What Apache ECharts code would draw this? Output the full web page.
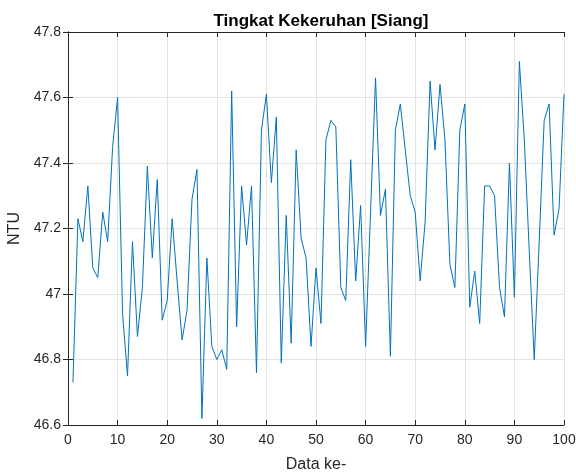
<!DOCTYPE html>
<html>
<head>
<meta charset="utf-8">
<script src="https://cdn.jsdelivr.net/npm/echarts@6/dist/echarts.min.js"></script>
<style>
  html, body { margin: 0; padding: 0; background: #fff; }
  #chart { width: 576px; height: 474px; }
</style>
</head>
<body>
<div id="chart"></div>
<script>
// turbidity readings, sample 1..100
const ntuValues = [
  46.73, 47.23, 47.16, 47.33, 47.08, 47.05, 47.25, 47.16, 47.45, 47.60,
  46.94, 46.75, 47.16, 46.87, 47.02, 47.39, 47.11, 47.35, 46.92, 46.98,
  47.23, 47.04, 46.86, 46.95, 47.29, 47.38, 46.62, 47.11, 46.84, 46.80,
  46.83, 46.77, 47.62, 46.90, 47.33, 47.15, 47.33, 46.76, 47.50, 47.61,
  47.34, 47.54, 46.79, 47.24, 46.85, 47.44, 47.17, 47.11, 46.84, 47.08,
  46.91, 47.47, 47.53, 47.51, 47.02, 46.98, 47.41, 47.04, 47.27, 46.84,
  47.25, 47.66, 47.24, 47.32, 46.81, 47.50, 47.58, 47.44, 47.30, 47.25,
  47.04, 47.22, 47.65, 47.44, 47.64, 47.47, 47.09, 47.02, 47.50, 47.58,
  46.96, 47.07, 46.91, 47.33, 47.33, 47.30, 47.02, 46.93, 47.40, 46.99,
  47.71, 47.47, 47.13, 46.80, 47.16, 47.53, 47.58, 47.18, 47.26, 47.61
]
const xTicks = [0, 10, 20, 30, 40, 50, 60, 70, 80, 90, 100]
const yTicks = [46.6, 46.8, 47, 47.2, 47.4, 47.6, 47.8]

const seriesData = ntuValues.map((v, i) => [i + 1, v])

const font = '"Liberation Sans", Arial, sans-serif'
const axisColor = '#262626'
const gridColor = '#e3e3e3'

function xAxisCfg(pos, showLabels) {
  return {
    type: 'value',
    position: pos,
    min: xTicks[0],
    max: xTicks[xTicks.length - 1],
    interval: 10,
    axisLine: { show: true, lineStyle: { color: axisColor, width: 1 } },
    axisTick: { show: true, inside: true, length: 5, lineStyle: { color: axisColor } },
    axisLabel: { show: showLabels, color: axisColor, fontSize: 14, fontFamily: font, margin: 8 },
    splitLine: { show: showLabels, lineStyle: { color: gridColor, width: 1 } },
    name: showLabels ? 'Data ke-' : '',
    nameLocation: 'middle',
    nameGap: 32,
    nameTextStyle: { color: axisColor, fontSize: 16, fontFamily: font }
  }
}

function yAxisCfg(pos, showLabels) {
  return {
    type: 'value',
    position: pos,
    min: yTicks[0],
    max: yTicks[yTicks.length - 1],
    interval: 0.2,
    axisLine: { show: true, lineStyle: { color: axisColor, width: 1 } },
    axisTick: { show: true, inside: true, length: 5, lineStyle: { color: axisColor } },
    axisLabel: {
      show: showLabels, color: axisColor, fontSize: 14, fontFamily: font, margin: 7,
      formatter: v => String(+v.toFixed(1))
    },
    splitLine: { show: showLabels, lineStyle: { color: gridColor, width: 1 } },
    name: showLabels ? 'NTU' : '',
    nameLocation: 'middle',
    nameGap: 39,
    nameRotate: 90,
    nameTextStyle: { color: axisColor, fontSize: 16, fontFamily: font }
  }
}

const chart = echarts.init(document.getElementById('chart'))
chart.setOption({
  animation: false,
  backgroundColor: '#fff',
  title: {
    text: 'Tingkat Kekeruhan [Siang]',
    left: 316,
    textAlign: 'center',
    top: 8,
    textStyle: { color: '#000', fontSize: 17, fontWeight: 'bold', fontFamily: font }
  },
  grid: { left: 68, right: 12, top: 32, bottom: 49, outerBoundsMode: 'none', containLabel: false },
  xAxis: [xAxisCfg('bottom', true), xAxisCfg('top', false)],
  yAxis: [yAxisCfg('left', true), yAxisCfg('right', false)],
  series: [{
    type: 'line',
    data: seriesData,
    showSymbol: false,
    lineStyle: { color: '#0072BD', width: 1 },
    itemStyle: { color: '#0072BD' }
  }]
})
</script>
</body>
</html>
